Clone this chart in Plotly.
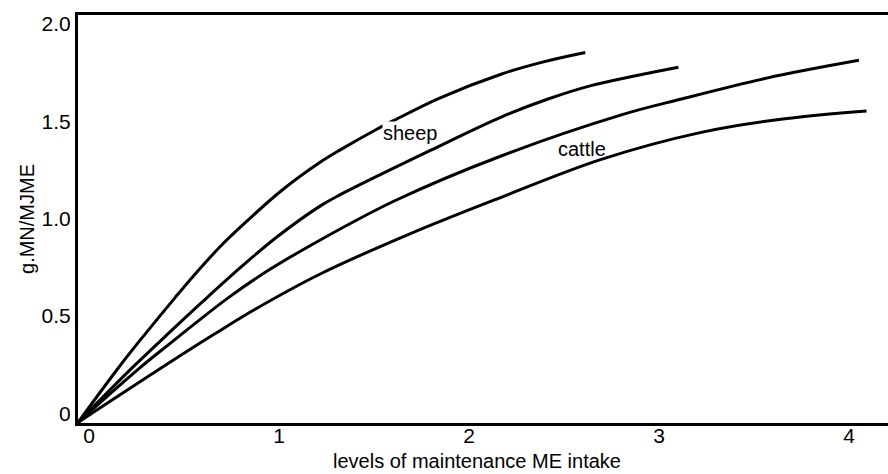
import plotly.graph_objects as go

# Curves: x = levels of maintenance ME intake, y = g.MN/MJME
x1 = [0, 0.22, 0.35, 0.51, 0.61, 0.75, 0.89, 1.07, 1.28, 1.38, 1.57, 1.66, 1.90, 2.23, 2.45, 2.67]
y1 = [0, 0.29, 0.45, 0.64, 0.755, 0.905, 1.035, 1.19, 1.34, 1.40, 1.505, 1.55, 1.665, 1.79, 1.852, 1.90]

x2 = [0, 0.29, 0.49, 0.65, 0.86, 1.05, 1.28, 1.38, 1.86, 2.23, 2.47, 2.70, 3.16]
y2 = [0, 0.285, 0.47, 0.615, 0.80, 0.955, 1.115, 1.17, 1.40, 1.57, 1.66, 1.73, 1.825]

x3 = [0, 0.33, 0.49, 0.79, 1.00, 1.28, 1.67, 2.23, 2.86, 3.17, 3.63, 4.11]
y3 = [0, 0.284, 0.41, 0.64, 0.78, 0.94, 1.14, 1.37, 1.58, 1.66, 1.77, 1.86]

x4 = [0, 0.47, 0.72, 0.93, 1.28, 1.75, 2.21, 2.75, 3.28, 3.72, 4.15]
y4 = [0, 0.30, 0.455, 0.58, 0.765, 0.97, 1.15, 1.35, 1.49, 1.56, 1.60]

series = [(x1, y1), (x2, y2), (x3, y3), (x4, y4)]

label_text = ["sheep", "cattle"]
label_x = [1.75, 2.65]
label_y = [1.485, 1.405]

x_title = "levels of maintenance ME intake"
y_title = "g.MN/MJME"

x_ticks = [0, 1, 2, 3, 4]
x_ticktext = ["0", "1", "2", "3", "4"]
y_ticks = [0, 0.5, 1.0, 1.5, 2.0]
y_ticktext = ["0", "0.5", "1.0", "1.5", "2.0"]

FONT = "Liberation Sans, Arial, Helvetica, sans-serif"

fig = go.Figure()
for xs, ys in series:
    fig.add_trace(go.Scatter(
        x=xs, y=ys, mode="lines",
        line=dict(color="black", width=3, shape="spline", smoothing=1.0),
        hoverinfo="skip", showlegend=False,
    ))

for t, lx, ly in zip(label_text, label_x, label_y):
    fig.add_annotation(
        x=lx, y=ly, text=t, showarrow=False,
        font=dict(family=FONT, size=20, color="black"),
        bgcolor="white" if t == "sheep" else "rgba(0,0,0,0)",
        borderpad=0,
    )

# x-axis title, placed just under the tick labels
fig.add_annotation(
    x=0.493, xref="paper", xanchor="center",
    y=-0.092, yref="paper", yanchor="middle",
    text=x_title, showarrow=False,
    font=dict(family=FONT, size=20, color="black"),
)

fig.update_layout(
    width=888, height=474,
    margin=dict(l=78, r=0, t=15, b=51, autoexpand=False),
    paper_bgcolor="white", plot_bgcolor="white",
    font=dict(family=FONT, size=21, color="black"),
    showlegend=False,
)

fig.update_xaxes(
    range=[0, 4.263],
    tickvals=x_ticks, ticktext=x_ticktext,
    showgrid=False, zeroline=False,
    showline=True, linecolor="black", linewidth=3, mirror=True,
    ticks="", ticklen=0, ticklabelshift=11, ticklabelstandoff=-8,
    tickfont=dict(family=FONT, size=21),
    automargin=False,
    fixedrange=True,
)
fig.update_yaxes(
    range=[-0.003, 2.093],
    tickvals=y_ticks, ticktext=y_ticktext,
    showgrid=False, zeroline=False,
    showline=True, linecolor="black", linewidth=3, mirror=False,
    ticks="", ticklen=0, ticklabelshift=-9, ticklabelstandoff=0,
    tickfont=dict(family=FONT, size=21),
    title=dict(text=y_title, font=dict(family=FONT, size=20), standoff=2),
    automargin=False,
    fixedrange=True,
)

fig.write_html(
    "out.html",
    config={"displayModeBar": False},
    post_script="document.body.style.margin='0';document.body.style.overflow='hidden';",
)
